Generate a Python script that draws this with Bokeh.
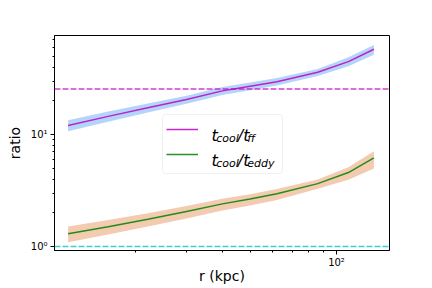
from bokeh.plotting import figure
from bokeh.models import (FixedTicker, Span, Label, BoxAnnotation, Legend, LegendItem)
from bokeh.embed import file_html
from bokeh.resources import INLINE

# ---- data ----
r_kpc = [11.6, 16, 22, 30, 40, 50, 62, 86, 110, 135]
ratio_ff = [12.0, 14.5, 17.3, 20.5, 24.5, 27.0, 29.6, 35.9, 44.7, 57.7]
ratio_ff_hi = [13.4, 16.0, 18.9, 22.2, 26.5, 29.1, 31.9, 38.5, 48.8, 63.0]
ratio_ff_lo = [10.7, 13.0, 15.7, 18.8, 22.5, 24.8, 27.3, 33.2, 40.6, 51.4]
ratio_eddy = [1.30, 1.50, 1.75, 2.05, 2.40, 2.65, 2.96, 3.64, 4.57, 6.17]
ratio_eddy_hi = [1.51, 1.72, 1.98, 2.30, 2.66, 2.93, 3.25, 3.96, 5.10, 7.08]
ratio_eddy_lo = [1.09, 1.28, 1.51, 1.78, 2.09, 2.32, 2.60, 3.28, 3.95, 4.96]
threshold_ff = 25.4
threshold_eddy = 1.0

x_range = (10.4, 153)
y_range = (0.92, 76.5)
y_major = [1, 10]
y_minor = [2, 3, 4, 5, 6, 7, 8, 9, 20, 30, 40, 50, 60, 70]
x_major = [100]
x_minor = [20, 30, 40, 50, 60, 70, 80, 90]

FONT = "DejaVu Sans"

p = figure(width=432, height=288, x_axis_type="log", y_axis_type="log",
           x_range=x_range, y_range=y_range,
           output_backend="svg", toolbar_location=None,
           min_border_left=54, min_border_right=43, min_border_top=35, min_border_bottom=38)
p.xgrid.visible = False
p.ygrid.visible = False
p.outline_line_color = "black"
p.outline_line_width = 1
p.background_fill_color = "white"
p.border_fill_color = "white"

p.xaxis.ticker = FixedTicker(ticks=x_major, minor_ticks=x_minor)
p.yaxis.ticker = FixedTicker(ticks=y_major, minor_ticks=y_minor)
p.xaxis.major_label_overrides = {100: "10²"}
p.yaxis.major_label_overrides = {1: "10⁰", 10: "10¹"}
for ax in (p.xaxis, p.yaxis):
    ax.major_tick_in = 0
    ax.major_tick_out = 4
    ax.minor_tick_in = 0
    ax.minor_tick_out = 2
    ax.axis_line_color = "black"
    ax.major_tick_line_color = "black"
    ax.minor_tick_line_color = "black"
    ax.major_label_text_font = FONT
    ax.major_label_text_font_size = "10px"
    ax.major_label_text_color = "black"
    ax.major_label_standoff = 3
    ax.axis_label_text_font = FONT
    ax.axis_label_text_font_size = "14px"
    ax.axis_label_text_font_style = "normal"
    ax.axis_label_text_color = "black"
p.xaxis.axis_label = "r (kpc)"
p.yaxis.axis_label = "ratio"
p.xaxis.major_label_standoff = 2
p.xaxis.axis_label_standoff = -3
p.yaxis.axis_label_standoff = 5

# bands
p.varea(x=r_kpc, y1=ratio_ff_lo, y2=ratio_ff_hi, fill_color="#b4d5fa", fill_alpha=1.0)
p.varea(x=r_kpc, y1=ratio_eddy_lo, y2=ratio_eddy_hi, fill_color="#f2cbb0", fill_alpha=1.0)
l_ff = p.line(r_kpc, ratio_ff, line_color="#bf00bf", line_alpha=0.85, line_width=1.5)
l_ed = p.line(r_kpc, ratio_eddy, line_color="#008000", line_alpha=0.85, line_width=1.5)

p.add_layout(Span(location=threshold_ff, dimension="width", line_color="#bf00bf",
                  line_alpha=0.75, line_width=1.5, line_dash="6 2"))
p.add_layout(Span(location=threshold_eddy, dimension="width", line_color="#00bfbf",
                  line_alpha=0.75, line_width=1.5, line_dash="6 2"))

# legend box
p.add_layout(BoxAnnotation(left=108, right=228, bottom=77, top=136,
                           left_units="screen", right_units="screen",
                           bottom_units="screen", top_units="screen",
                           fill_color="white", fill_alpha=0.8,
                           line_color="#cccccc", line_width=1, border_radius=3,
                           level="annotation"))

leg = Legend(items=[LegendItem(label=" ", renderers=[l_ff]),
                    LegendItem(label=" ", renderers=[l_ed])],
             location=(112, 86), orientation="vertical",
             padding=0, spacing=5, margin=0, glyph_width=32, glyph_height=20,
             label_height=20, label_width=1, label_standoff=0,
             background_fill_alpha=0, border_line_alpha=0,
             label_text_font_size="1px")
p.add_layout(leg, "center")

def piece(txt, x, y, size):
    p.add_layout(Label(x=x, y=y, x_units="screen", y_units="screen", text=txt,
                       text_font=FONT, text_font_style="italic",
                       text_font_size=size, text_color="black",
                       text_baseline="alphabetic", text_align="left",
                       level="overlay"))

for base_y, sub in ((115, "ff"), (90, "eddy")):
    piece("t", 157, base_y, "16px")
    piece("cool", 161.7, base_y - 3.3, "11px")
    piece("/t", 183.3, base_y, "16px")
    piece(sub, 192.7, base_y - 3.3, "11px")

open("out.html", "w").write(file_html(p, INLINE))
